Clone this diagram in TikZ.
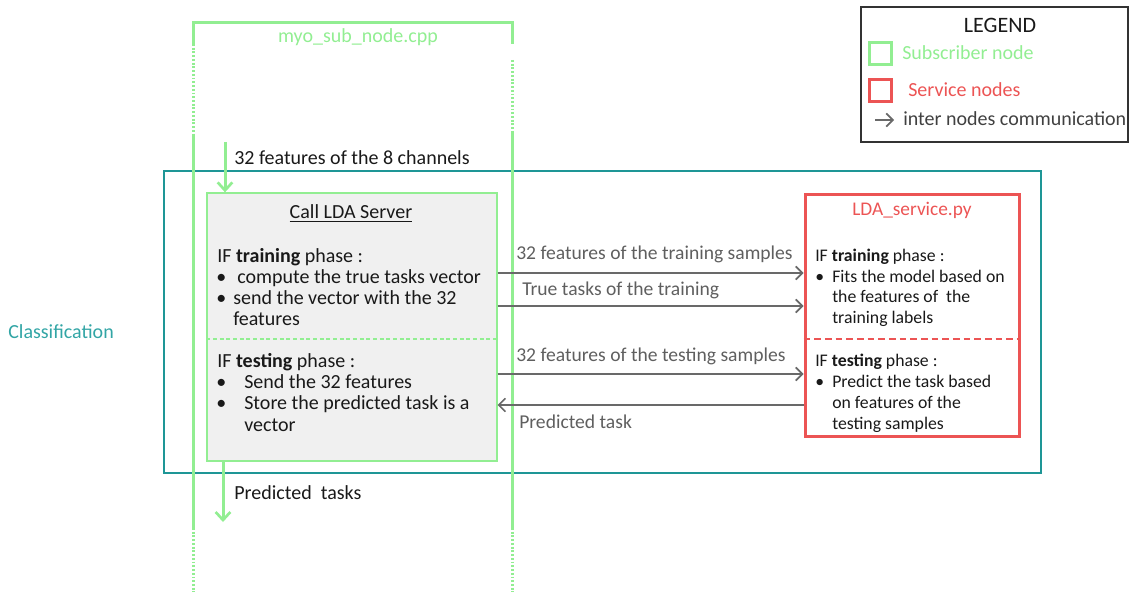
\documentclass[tikz,border=0pt]{standalone}
\usepackage{fontspec}
\setmainfont{Carlito}
\usetikzlibrary{arrows.meta}
\definecolor{subgreen}{RGB}{146,238,146}
\definecolor{srvred}{RGB}{236,84,84}
\definecolor{clsteal}{RGB}{30,150,150}
\definecolor{clstext}{RGB}{50,165,165}
\definecolor{commgray}{RGB}{105,105,105}
\definecolor{labgray}{RGB}{95,95,95}
\definecolor{txtdark}{RGB}{25,25,25}
\definecolor{boxfill}{RGB}{240,240,240}
\begin{document}
\begin{tikzpicture}[x=0.75pt,y=-0.75pt,
  bodyfont/.style={font=\fontsize{15}{17}\selectfont},
  srvfont/.style={font=\fontsize{13.3}{15}\selectfont},
  legfont/.style={font=\fontsize{15}{17}\selectfont},
  txt/.style={anchor=base west,inner sep=0pt,text=txtdark,bodyfont},
  stxt/.style={txt,srvfont},
  lab/.style={txt,text=labgray,font=\fontsize{14.7}{17}\selectfont},
  frame/.style={draw=subgreen,line width=2.25pt},
  dots/.style={draw=subgreen,line width=2.25pt,dash pattern=on 1.4pt off 1.4pt},
  flow/.style={draw=subgreen,line width=2.25pt,-{Straight Barb[length=6pt,width=11pt,line width=2pt]}},
  comm/.style={draw=commgray,line width=1.4pt,-{Straight Barb[length=5pt,width=10pt,line width=1.2pt]}},
  box/.style={rectangle,inner sep=0pt}]
\useasboundingbox (0,0) rectangle (1129,592);

% subscriber lifeline frame
\coordinate (fl0) at (193,23);
\coordinate (fr0) at (512,23);
\draw[frame] (193,44) -- (fl0) -- (fr0) -- (512,44);
\draw[dots] (193,44) -- (193,135);
\draw[dots] (512,60) -- (512,133);
\node[anchor=base,inner sep=0pt,text=subgreen,bodyfont] (subname) at (358,43) {myo\_sub\_node.cpp};

% classification region
\node[box,draw=clsteal,line width=1.6pt,minimum width=657.75pt,minimum height=226.5pt] (cls) at (602.5,322) {};
\node[anchor=base west,inner sep=0pt,text=clstext,bodyfont] (clsname) at (8,338) {Classification};

% lifeline verticals (over the region border)
\draw[frame] (193,135) -- (193,528);
\draw[frame] (512,133) -- (512,528);
\draw[dots] (193,528) -- (193,592);
\draw[dots] (512,528) -- (512,592);

% client block
\node[box,draw=subgreen,line width=1pt,fill=boxfill,minimum width=217.5pt,minimum height=201pt] (call) at (352,327) {};
\coordinate (cdiv) at (0,339);
\draw[subgreen,line width=1pt,dash pattern=on 3pt off 2pt] (call.west |- cdiv) -- (call.east |- cdiv);
\node[anchor=base,inner sep=0pt,text=txtdark,bodyfont] (calltitle) at (351,219) {\underline{Call LDA Server}};
\node[txt] (c1) at (217,262) {IF \textbf{training} phase :};
\node[txt] (c2b) at (216,283) {\textbullet};
\node[txt] (c2) at (237,283) {compute the true tasks vector};
\node[txt] (c3b) at (216,304) {\textbullet};
\node[txt] (c3) at (233,304) {send the vector with the 32};
\node[txt] (c4) at (233,325) {features};
\node[txt] (c5) at (217,367) {IF \textbf{testing} phase :};
\node[txt] (c6b) at (216,388) {\textbullet};
\node[txt] (c6) at (244,388) {Send the 32 features};
\node[txt] (c7b) at (216,409) {\textbullet};
\node[txt] (c7) at (244,409) {Store the predicted task is a};
\node[txt] (c8) at (244,431) {vector};

% service block
\node[box,draw=srvred,line width=2.25pt,minimum width=160.5pt,minimum height=181.5pt] (svc) at (912,315) {};
\coordinate (sdiv) at (0,339);
\draw[srvred,line width=2.2pt,dash pattern=on 5pt off 3pt] (svc.west |- sdiv) -- (svc.east |- sdiv);
\node[anchor=base,inner sep=0pt,text=srvred,font=\fontsize{14.5}{17}\selectfont] (svctitle) at (912,215) {LDA\_service.py};
\node[stxt] (s1) at (815,261) {IF \textbf{training} phase :};
\node[stxt] (s2b) at (815,282) {\textbullet};
\node[stxt] (s2) at (832,282) {Fits the model based on};
\node[stxt] (s3) at (832,302) {the features of\ \ the};
\node[stxt] (s4) at (832,323) {training labels};
\node[stxt] (s5) at (815,366) {IF \textbf{testing} phase :};
\node[stxt] (s6b) at (815,387) {\textbullet};
\node[stxt] (s6) at (832,387) {Predict the task based};
\node[stxt] (s7) at (832,408) {on features of the};
\node[stxt] (s8) at (832,429) {testing samples};

% inter node messages
\coordinate (m1) at (0,273);
\coordinate (m2) at (0,306);
\coordinate (m3) at (0,374);
\coordinate (m4) at (0,405);
\draw[comm] (call.east |- m1) -- (svc.west |- m1);
\draw[comm] (call.east |- m2) -- (svc.west |- m2);
\draw[comm] (call.east |- m3) -- (svc.west |- m3);
\draw[comm] (svc.west |- m4) -- (call.east |- m4);
\node[lab] (l1) at (516,259) {32 features\ of the training samples};
\node[lab] (l2) at (522,295) {True tasks of the training};
\node[lab] (l3) at (516,361) {32 features\ of the testing samples};
\node[lab] (l4) at (519,428) {Predicted\ task};

% subscriber input and output
\coordinate (inTop) at (225,142);
\draw[flow] (inTop) -- (inTop |- call.north);
\node[txt] (inlab) at (234,164) {32 features\ of the 8 channels};
\coordinate (outEnd) at (223,522);
\draw[flow] (call.south -| outEnd) -- (outEnd);
\node[txt] (outlab) at (234,499) {Predicted\ \ tasks};

% legend
\node[box,draw=black!80,line width=0.9pt,minimum width=200.25pt,minimum height=101.25pt] (leg) at (994.5,74.5) {};
\node[anchor=base,inner sep=0pt,text=txtdark,font=\fontsize{16.5}{19}\selectfont] (legtitle) at (1000,33) {LEGEND};
\node[box,draw=subgreen,line width=2.25pt,minimum width=17pt,minimum height=16.5pt] (lgsq) at (880.5,54) {};
\node[anchor=base west,inner sep=0pt,text=subgreen,legfont] (lgtxt) at (902,60) {Subscriber node};
\node[box,draw=srvred,line width=2.25pt,minimum width=17pt,minimum height=16.5pt] (lrsq) at (880.5,91) {};
\node[anchor=base west,inner sep=0pt,text=srvred,legfont] (lrtxt) at (908,97) {Service nodes};
\coordinate (la0) at (875,120);
\coordinate (la1) at (894,120);
\draw[comm] (la0) -- (la1);
\node[anchor=base west,inner sep=0pt,text=black!75,legfont] (latxt) at (903,126) {inter nodes communication};
\end{tikzpicture}
\end{document}
